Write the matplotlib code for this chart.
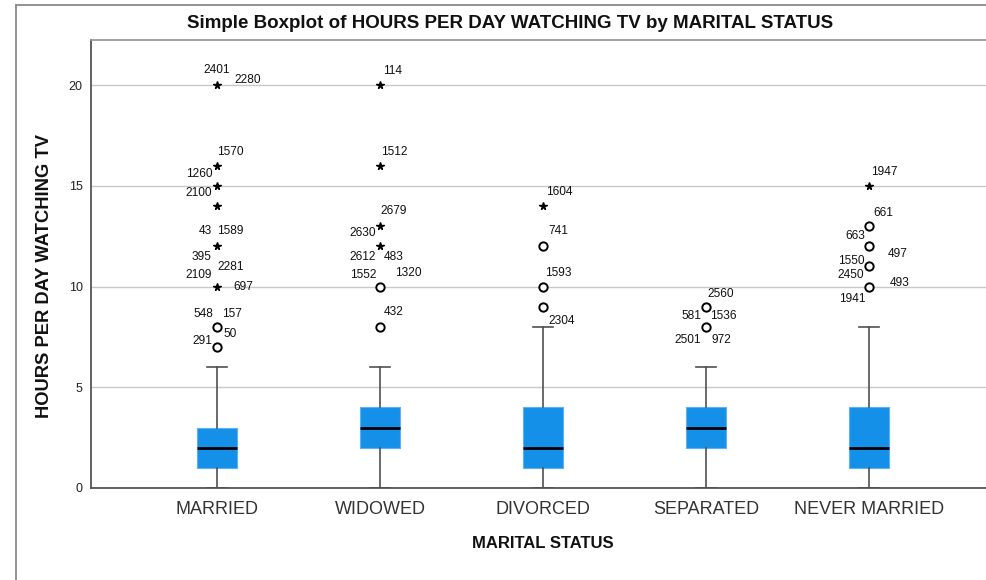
import matplotlib
matplotlib.use("Agg")
import matplotlib.pyplot as plt
from matplotlib.lines import Line2D

# ---------------- data ----------------
categories = ["MARRIED", "WIDOWED", "DIVORCED", "SEPARATED", "NEVER MARRIED"]
q1 = [1, 2, 1, 2, 1]
median = [2, 3, 2, 3, 2]
q3 = [3, 4, 4, 4, 4]
whisker_low = [0, 0, 0, 0, 0]
whisker_high = [6, 6, 8, 6, 8]

# extreme outliers (stars) and mild outliers (circles) per category
extreme_values = [
    [20, 16, 15, 14, 12, 10],
    [20, 16, 13, 12],
    [14],
    [],
    [15],
]
mild_values = [
    [8, 7],
    [10, 8],
    [12, 10, 9],
    [9, 8],
    [13, 12, 11, 10],
]

# case labels: (category index, outlier value, case id)
case_labels = [
    (0, 20, "2401"), (0, 20, "2280"), (0, 16, "1570"), (0, 15, "1260"),
    (0, 14, "2100"), (0, 12, "43"), (0, 12, "1589"), (0, 12, "395"),
    (0, 10, "2281"), (0, 10, "2109"), (0, 10, "697"), (0, 8, "548"),
    (0, 8, "157"), (0, 8, "50"), (0, 7, "291"),
    (1, 20, "114"), (1, 16, "1512"), (1, 13, "2679"), (1, 13, "2630"),
    (1, 12, "2612"), (1, 12, "483"), (1, 10, "1552"), (1, 10, "1320"),
    (1, 8, "432"),
    (2, 14, "1604"), (2, 12, "741"), (2, 10, "1593"), (2, 9, "2304"),
    (3, 9, "2560"), (3, 9, "581"), (3, 9, "1536"), (3, 8, "2501"),
    (3, 8, "972"),
    (4, 15, "1947"), (4, 13, "661"), (4, 13, "663"), (4, 12, "497"),
    (4, 11, "1550"), (4, 10, "2450"), (4, 10, "493"), (4, 10, "1941"),
]

# layout: pixel offsets of each case label from its point (same order)
label_offsets = [
    (0, 15), (31, 5), (13, 14), (-18, 12),
    (-18, 13), (-12, 15), (13, 15), (-15, -11),
    (14, 20), (-18, 11), (26, 0), (-14, 13),
    (15, 13), (13, -7), (-15, 6),
    (13, 14), (14, 14), (14, 15), (-17, -7),
    (-17, -11), (14, -11), (-17, 11), (28, 14),
    (14, 15),
    (16, 14), (15, 15), (15, 13), (19, -14),
    (15, 13), (-15, -9), (17, -9), (-18, -13),
    (15, -13),
    (15, 14), (14, 13), (-14, -10), (29, -8),
    (-18, 5), (-18, 11), (31, 3), (-17, -12),
]

# ---------------- figure ----------------
W, H = 987, 580
fig = plt.figure(figsize=(W / 100, H / 100), dpi=100)
fig.patch.set_facecolor("white")

left_px, right_px, top_px, bottom_px = 91, 987, 40, 488
ax = fig.add_axes([left_px / W, 1 - bottom_px / H,
                   (right_px - left_px) / W, (bottom_px - top_px) / H])

positions = list(range(len(categories)))
stats = []
for i in positions:
    stats.append(dict(med=median[i], q1=q1[i], q3=q3[i],
                      whislo=whisker_low[i], whishi=whisker_high[i],
                      fliers=[], label=categories[i]))

ax.bxp(stats, positions=positions, widths=0.25, capwidths=0.125,
       showfliers=False, patch_artist=True,
       boxprops=dict(facecolor="#1490e8", edgecolor="#5fb0ee", linewidth=0.8),
       medianprops=dict(color="black", linewidth=2),
       whiskerprops=dict(color="#505050", linewidth=1.2),
       capprops=dict(color="#505050", linewidth=1.2),
       zorder=3)

for i in positions:
    if extreme_values[i]:
        ax.plot([i] * len(extreme_values[i]), extreme_values[i], ls="none",
                marker="*", markersize=5.5, color="black", zorder=4)
    if mild_values[i]:
        ax.plot([i] * len(mild_values[i]), mild_values[i], ls="none",
                marker="o", markersize=6, markerfacecolor="white",
                markeredgecolor="black", markeredgewidth=1.4, zorder=4)

for (ci, val, txt), (dx, dy) in zip(case_labels, label_offsets):
    ax.annotate(txt, xy=(ci, val), xytext=(dx, dy), textcoords="offset pixels",
                ha="center", va="center", fontsize=8.6,
                family="Liberation Sans", color="#111111", zorder=5)

x_lo = -(217 - left_px) / 163.0
x_hi = (right_px - 217) / 163.0
ax.set_xlim(x_lo, x_hi)
ax.set_ylim(0, (bottom_px - top_px) / 20.15)

ax.set_yticks([0, 5, 10, 15, 20])
ax.set_yticklabels(["0", "5", "10", "15", "20"], family="Liberation Sans",
                   fontsize=9, color="#222222")
ax.tick_params(axis="y", length=0, pad=6)
ax.set_xticks(positions)
ax.set_xticklabels(categories, family="Liberation Sans", fontweight="normal",
                   fontsize=13, color="#333333")
ax.tick_params(axis="x", length=0, pad=9)

ax.grid(axis="y", color="#c8c8c8", linewidth=1)
ax.set_axisbelow(True)

for s in ["left", "bottom"]:
    ax.spines[s].set_color("#555555")
    ax.spines[s].set_linewidth(1.3)
ax.spines["top"].set_color("#999999")
ax.spines["top"].set_linewidth(1.3)
ax.spines["right"].set_visible(False)

ax.set_xlabel("MARITAL STATUS", family="Liberation Sans", fontweight="bold",
              fontsize=12, color="#111111")
ax.xaxis.set_label_coords((2 - x_lo) / (x_hi - x_lo), -(544 - bottom_px) / (bottom_px - top_px),
                          transform=ax.transAxes)
ax.xaxis.label.set_va("center")
ax.set_ylabel("HOURS PER DAY WATCHING TV", family="Liberation Sans",
              fontweight="bold", fontsize=13.2, color="#111111")
ax.yaxis.set_label_coords((45 - left_px) / (right_px - left_px),
                          (bottom_px - 276) / (bottom_px - top_px))
ax.yaxis.label.set_va("center")

fig.text(510 / W, 1 - 23 / H,
         "Simple Boxplot of HOURS PER DAY WATCHING TV by MARITAL STATUS",
         ha="center", va="center", family="Liberation Sans",
         fontweight="bold", fontsize=13.5, color="#111111")

# outer frame lines
fig.add_artist(Line2D([16 / W, 16 / W], [0, 1 - 5 / H], color="#8a8a8a", lw=1.3))
fig.add_artist(Line2D([16 / W, 1], [1 - 5 / H, 1 - 5 / H], color="#8a8a8a", lw=1.3))

fig.savefig("out.png", dpi=100, facecolor="white")
